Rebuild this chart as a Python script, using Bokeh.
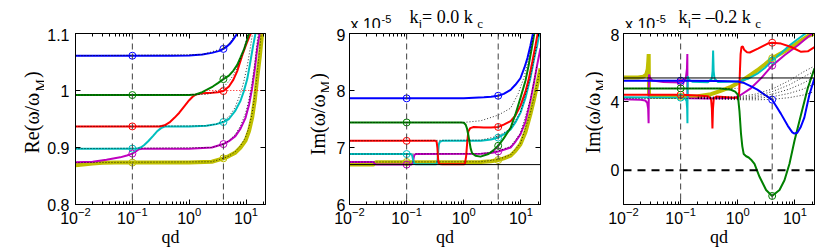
from math import pi
from bokeh.plotting import figure
from bokeh.layouts import row, column
from bokeh.models import (LogAxis, LinearAxis, FixedTicker, Label, Span,
                          CustomJSTickFormatter, Range1d)
from bokeh.embed import file_html
from bokeh.resources import INLINE

# ------------------------------------------------------------------ data
QD_MIN, QD_MAX = 0.01, 22.0
QD_MARKS = [0.1, 4.0]
ORDER = ["yellow", "magenta", "cyan", "red", "green", "blue"]
COLORS = {"blue": "#0000ff", "green": "#008000", "red": "#ff0000",
          "cyan": "#00bfbf", "magenta": "#bf00bf", "yellow": "#bfbf00"}
X_TICKS = [0.01, 0.1, 1.0, 10.0]

re_blue_qd = [0.01, 0.5, 1.0, 1.7, 2.5, 3.4, 4.0, 4.6, 5.2, 5.8, 6.4, 7.0, 7.6]
re_blue = [1.061, 1.061, 1.0615, 1.063, 1.066, 1.0695, 1.073, 1.077, 1.082, 1.088, 1.094, 1.100, 1.107]
re_green_qd = [0.01, 1.0, 1.3, 1.7, 2.1, 2.6, 3.2, 4.0, 5.0, 6.0, 7.0, 8.0, 9.2, 10.3, 11.5]
re_green = [0.992, 0.992, 0.993, 0.997, 1.002, 1.007, 1.013, 1.020, 1.026, 1.035, 1.045, 1.058, 1.072, 1.087, 1.103]
re_red_qd = [0.01, 0.3, 0.37, 0.45, 0.55, 0.67, 0.8, 1.0, 1.15, 1.31, 1.7, 2.5, 3.2, 4.0, 5.0, 6.0, 7.0, 8.6, 10.0, 11.5, 12.8]
re_red = [0.937, 0.937, 0.939, 0.944, 0.952, 0.961, 0.971, 0.983, 0.989, 0.993, 0.995, 0.996, 0.997, 0.999, 1.007, 1.019, 1.034, 1.062, 1.080, 1.095, 1.105]
re_cyan_qd = [0.01, 0.12, 0.14, 0.16, 0.19, 0.23, 0.27, 0.32, 0.38, 1.0, 2.0, 3.0, 4.0, 5.0, 6.4, 8.0, 9.1, 10.5, 11.9, 13.3, 14.8]
re_cyan = [0.898, 0.898, 0.900, 0.904, 0.911, 0.920, 0.928, 0.934, 0.937, 0.937, 0.938, 0.941, 0.9447, 0.950, 0.9637, 0.982, 0.998, 1.020, 1.050, 1.078, 1.102]
re_magenta_qd = [0.01, 0.02, 0.035, 0.061, 0.08, 0.1, 0.115, 0.13, 0.15, 1.0, 2.5, 4.0, 5.0, 6.5, 8.0, 9.8, 11.3, 12.8, 14.3, 15.7, 17.5]
re_magenta = [0.874, 0.875, 0.8787, 0.8827, 0.886, 0.8893, 0.893, 0.897, 0.898, 0.898, 0.900, 0.906, 0.911, 0.920, 0.933, 0.952, 0.975, 1.004, 1.038, 1.073, 1.103]
re_yellow_qd = [0.01, 0.015, 0.02, 0.03, 0.05, 1.0, 2.5, 4.0, 5.0, 6.5, 8.0, 9.8, 11.3, 12.8, 14.3, 15.7, 17.5, 19.2]
re_yellow = [0.869, 0.8705, 0.872, 0.8732, 0.8735, 0.8735, 0.875, 0.881, 0.885, 0.891, 0.900, 0.912, 0.929, 0.952, 0.984, 1.021, 1.06, 1.10]
re_dot1_qd = [0.01, 2.0, 3.0, 4.0, 5.0, 6.0, 7.0, 8.0, 9.2, 10.4, 11.2]
re_dot1 = [0.992, 0.993, 0.998, 1.006, 1.016, 1.027, 1.040, 1.055, 1.072, 1.092, 1.105]
re_dot2_qd = [0.01, 2.0, 3.0, 4.0, 5.0, 6.4, 8.0, 9.1, 10.5, 11.9, 13.0]
re_dot2 = [0.937, 0.938, 0.941, 0.946, 0.954, 0.970, 0.995, 1.015, 1.043, 1.075, 1.100]
re_dot3_qd = [0.01, 2.5, 4.0, 5.0, 6.5, 8.0, 9.8, 11.3, 12.8, 14.3, 15.7, 16.5]
re_dot3 = [0.898, 0.900, 0.906, 0.912, 0.923, 0.938, 0.960, 0.985, 1.015, 1.050, 1.085, 1.102]
re_dot4_qd = [0.01, 2.5, 4.0, 5.0, 6.5, 8.0, 9.8, 11.3, 12.8, 14.3, 15.7, 17.5, 18.5]
re_dot4 = [0.8735, 0.875, 0.881, 0.885, 0.893, 0.903, 0.918, 0.936, 0.960, 0.992, 1.030, 1.075, 1.100]
re_dot5_qd = [0.01, 1.7, 4.0, 5.2, 6.4, 6.8]
re_dot5 = [1.061, 1.063, 1.074, 1.084, 1.097, 1.101]
re_ref_qd = [2.0, 22.0]
re_ref = [1.0, 1.0]
re_mark_01 = {"blue": 1.061, "green": 0.992, "red": 0.937, "cyan": 0.898, "magenta": 0.8893, "yellow": 0.8735}
re_mark_4 = {"blue": 1.073, "green": 1.020, "red": 0.999, "cyan": 0.9447, "magenta": 0.906, "yellow": 0.881}
re_yticks = [0.8, 0.9, 1.0, 1.1]

im0_blue_qd = [0.01, 1.0, 2.25, 3.0, 4.0, 5.0, 6.6, 8.0, 9.8, 11.5, 13.0, 14.6, 16.4, 18.0]
im0_blue = [7.862, 7.862, 7.88, 7.89, 7.908, 7.94, 8.012, 8.10, 8.215, 8.40, 8.57, 8.78, 9.02, 9.25]
im0_green_qd = [0.01, 0.9, 1.0, 1.08, 1.14, 1.2, 1.26, 1.32, 1.4, 1.6, 1.96, 2.7, 3.3, 4.0, 5.0, 6.6, 8.0, 9.8, 12.0, 13.7, 15.5, 17.5, 19.0]
im0_green = [7.439, 7.439, 7.435, 7.40, 7.33, 7.22, 7.10, 6.98, 6.90, 6.857, 6.84, 6.885, 6.95, 7.03, 7.16, 7.347, 7.58, 7.868, 8.17, 8.45, 8.75, 9.05, 9.3]
im0_red_qd = [0.01, 0.32, 0.335, 0.345, 0.352, 0.36, 0.375, 0.42, 1.0, 1.05, 1.1, 1.15, 1.2, 1.3, 1.49, 2.25, 3.0, 4.0, 5.0, 6.6, 8.0, 9.8, 12.0, 13.7, 15.8, 17.9, 20.5]
im0_red = [7.117, 7.117, 7.10, 7.0, 6.85, 6.74, 6.712, 6.705, 6.705, 6.72, 6.85, 7.1, 7.28, 7.34, 7.36, 7.35, 7.35, 7.36, 7.40, 7.464, 7.56, 7.73, 7.98, 8.2, 8.5, 8.78, 9.1]
im0_cyan_qd = [0.01, 0.12, 0.125, 0.13, 0.135, 0.145, 0.33, 0.345, 0.355, 0.365, 0.38, 0.42, 2.0, 3.0, 4.0, 5.0, 6.6, 8.0, 9.8, 12.0, 14.6, 17.0, 19.2, 22.0]
im0_cyan = [6.885, 6.885, 6.86, 6.78, 6.72, 6.705, 6.705, 6.75, 6.9, 7.05, 7.10, 7.117, 7.12, 7.14, 7.174, 7.23, 7.318, 7.44, 7.608, 7.87, 8.215, 8.55, 8.79, 9.1]
im0_magenta_qd = [0.01, 0.026, 0.0275, 0.029, 0.12, 0.128, 0.132, 0.136, 0.145, 2.0, 3.0, 4.0, 5.0, 6.6, 8.0, 9.8, 12.0, 14.6, 17.0, 19.2, 22.0]
im0_magenta = [6.745, 6.745, 6.72, 6.70, 6.70, 6.72, 6.8, 6.87, 6.885, 6.89, 6.905, 6.931, 6.96, 7.0, 7.1, 7.231, 7.45, 7.81, 8.15, 8.445, 8.74]
im0_yellow_qd = [0.01, 0.026, 0.0275, 0.029, 2.0, 3.0, 4.0, 5.0, 6.6, 8.0, 9.8, 12.0, 14.6, 17.0, 19.2, 22.0]
im0_yellow = [6.70, 6.70, 6.72, 6.74, 6.745, 6.76, 6.78, 6.81, 6.857, 6.94, 7.058, 7.27, 7.578, 7.85, 8.098, 8.388]
im0_dot1_qd = [0.01, 1.0, 2.0, 4.0, 6.6, 9.0, 11.2, 14.0, 16.8]
im0_dot1 = [7.439, 7.44, 7.47, 7.568, 7.69, 7.95, 8.214, 8.6, 9.0]
im0_dot2_qd = [0.01, 2.0, 4.0, 6.6, 9.8, 14.6, 19.0]
im0_dot2 = [7.117, 7.13, 7.2, 7.33, 7.62, 8.22, 8.8]
im0_dot3_qd = [0.01, 2.0, 4.0, 6.6, 9.8, 14.6, 19.0]
im0_dot3 = [6.885, 6.89, 6.94, 7.02, 7.25, 7.83, 8.43]
im0_dot4_qd = [0.01, 2.0, 4.0, 6.6, 9.8, 14.6, 19.0, 22.0]
im0_dot4 = [6.745, 6.75, 6.79, 6.87, 7.07, 7.6, 8.1, 8.4]
im0_ref = 6.70
im0_mark_01 = {"blue": 7.862, "green": 7.439, "red": 7.117, "cyan": 6.885, "magenta": 6.70, "yellow": 6.745}
im0_mark_4 = {"blue": 7.908, "green": 7.03, "red": 7.36, "cyan": 7.174, "magenta": 6.931, "yellow": 6.78}
im0_yticks = [6, 7, 8, 9]

im2_yellow_qd = [0.01, 0.018, 0.022, 0.025, 0.0265, 0.0272, 0.0276, 0.0278, 0.028, 0.03, 0.1, 0.2, 0.34, 0.5, 0.76, 1.13, 1.7, 2.2, 3.0, 4.0, 6.5, 10.0, 16.8, 22.0]
im2_yellow = [5.42, 5.43, 5.47, 5.6, 5.9, 6.4, 6.8, 5.5, 4.45, 4.32, 4.3, 4.33, 4.45, 4.65, 4.88, 5.2, 5.6, 5.85, 6.2, 6.55, 6.95, 7.35, 7.85, 8.0]
im2_magenta_qd = [0.01, 0.02, 0.024, 0.026, 0.027, 0.0275, 0.0277, 0.028, 0.029, 0.032, 0.05, 0.1, 0.115, 0.124, 0.129, 0.131, 0.1315, 0.132, 0.14, 0.3, 0.875, 1.14, 1.71, 2.57, 3.98, 6.56, 11.3, 16.8, 22.0]
im2_magenta = [4.15, 4.13, 4.08, 3.95, 3.6, 2.75, 4.5, 5.6, 5.4, 5.25, 5.16, 5.14, 5.2, 5.45, 5.95, 6.8, 5.0, 4.3, 4.22, 4.2, 4.23, 4.42, 4.81, 5.39, 6.12, 6.73, 7.31, 7.79, 8.1]
im2_cyan_qd = [0.01, 0.1, 0.12, 0.127, 0.13, 0.1315, 0.132, 0.133, 0.138, 0.16, 0.3, 0.35, 0.362, 0.37, 0.378, 0.392, 0.45, 1.0, 1.5, 2.2, 3.0, 4.0, 5.7, 8.0, 11.0, 16.0]
im2_cyan = [4.27, 4.25, 4.2, 4.05, 3.6, 2.75, 4.5, 5.5, 5.3, 5.18, 5.15, 5.35, 5.8, 7.0, 5.8, 5.35, 5.17, 5.19, 5.35, 5.65, 6.0, 6.42, 6.85, 7.3, 7.65, 8.05]
im2_red_qd = [0.01, 0.1, 0.2, 0.3, 0.34, 0.352, 0.36, 0.368, 0.38, 0.42, 0.875, 1.02, 1.06, 1.09, 1.12, 1.16, 1.22, 1.29, 1.45, 1.62, 2.25, 3.34, 3.98, 5.7, 8.6, 12.8, 16.8, 22.0]
im2_red = [4.42, 4.42, 4.38, 4.33, 4.2, 3.6, 2.45, 3.6, 4.2, 4.32, 4.25, 4.25, 4.6, 5.8, 6.8, 7.2, 7.25, 7.05, 6.9, 6.89, 7.12, 7.41, 7.46, 7.41, 7.21, 6.93, 6.96, 7.21]
im2_green_qd = [0.01, 0.5, 0.76, 0.9, 1.0, 1.07, 1.14, 1.2, 1.27, 1.4, 1.55, 1.71, 1.96, 2.4, 3.13, 3.98, 5.37, 6.56, 8.03, 9.82, 12.8, 16.8, 22.0]
im2_green = [4.79, 4.79, 4.71, 4.6, 4.42, 3.46, 2.11, 1.4, 0.95, 0.82, 0.75, 0.62, 0.38, -0.38, -1.15, -1.50, -1.15, -0.58, 0.38, 1.73, 3.27, 4.81, 5.96]
im2_blue_qd = [0.01, 0.1, 0.45, 1.0, 1.3, 1.71, 2.2, 2.87, 3.98, 4.8, 5.7, 7.5, 9.0, 9.8, 11.0, 12.5, 14.6, 17.9, 22.0]
im2_blue = [5.24, 5.24, 5.22, 5.19, 5.1, 4.91, 4.72, 4.45, 4.13, 3.7, 3.3, 2.6, 2.22, 2.15, 2.2, 2.5, 3.08, 4.42, 5.39]
im2_dot_qd = [0.2, 1.0, 2.0, 4.0, 8.0, 14.0, 22.0]
im2_dot1 = [4.2, 4.13, 4.12, 4.15, 4.25, 4.4, 4.6]
im2_dot2 = [4.2, 4.17, 4.2, 4.3, 4.5, 4.75, 5.05]
im2_dot3 = [4.22, 4.2, 4.27, 4.45, 4.75, 5.1, 5.45]
im2_dot4 = [4.25, 4.25, 4.35, 4.6, 5.0, 5.45, 5.8]
im2_dot5 = [4.28, 4.3, 4.45, 4.75, 5.25, 5.75, 6.1]
im2_dot6_qd = [0.01, 1.0]
im2_dot6 = [4.79, 4.79]
im2_dot7_qd = [0.01, 0.2]
im2_dot7 = [4.2, 4.2]
im2_ref = 5.40
im2_zero = 0.0
im2_mark_01 = {"blue": 5.24, "green": 4.79, "red": 4.42, "cyan": 4.25, "magenta": 5.14, "yellow": 4.3}
im2_mark_4 = {"blue": 4.13, "green": -1.50, "red": 7.46, "cyan": 6.42, "magenta": 6.12, "yellow": 6.55}
im2_yticks = [0, 4, 8]

RE_CURVES = {"blue": (re_blue_qd, re_blue), "green": (re_green_qd, re_green), "red": (re_red_qd, re_red),
             "cyan": (re_cyan_qd, re_cyan), "magenta": (re_magenta_qd, re_magenta), "yellow": (re_yellow_qd, re_yellow)}
RE_DOTS = [(re_dot1_qd, re_dot1), (re_dot2_qd, re_dot2), (re_dot3_qd, re_dot3), (re_dot4_qd, re_dot4), (re_dot5_qd, re_dot5)]
IM0_CURVES = {"blue": (im0_blue_qd, im0_blue), "green": (im0_green_qd, im0_green), "red": (im0_red_qd, im0_red),
              "cyan": (im0_cyan_qd, im0_cyan), "magenta": (im0_magenta_qd, im0_magenta), "yellow": (im0_yellow_qd, im0_yellow)}
IM0_DOTS = [(im0_dot1_qd, im0_dot1), (im0_dot2_qd, im0_dot2), (im0_dot3_qd, im0_dot3), (im0_dot4_qd, im0_dot4)]
IM2_CURVES = {"blue": (im2_blue_qd, im2_blue), "green": (im2_green_qd, im2_green), "red": (im2_red_qd, im2_red),
              "cyan": (im2_cyan_qd, im2_cyan), "magenta": (im2_magenta_qd, im2_magenta), "yellow": (im2_yellow_qd, im2_yellow)}
IM2_DOTS = [(im2_dot_qd, im2_dot1), (im2_dot_qd, im2_dot2), (im2_dot_qd, im2_dot3), (im2_dot_qd, im2_dot4),
            (im2_dot_qd, im2_dot5), (im2_dot6_qd, im2_dot6), (im2_dot7_qd, im2_dot7)]

# ------------------------------------------------------------------ styling
SANS = "Liberation Sans"
SERIF = "Liberation Serif"
TOP_H = 28
MAIN_H = 221
FRAME_H = 173
MAIN_TOP = 5
MINOR = [d * m for d in X_TICKS for m in range(2, 10) if d * m <= QD_MAX]
EMPTY = "return ''"


def style_axis(ax, show_labels, standoff=5):
    ax.axis_line_color = "black"
    ax.axis_line_width = 1
    ax.major_tick_line_color = "black"
    ax.minor_tick_line_color = "black"
    ax.major_tick_in = 5
    ax.major_tick_out = 0
    ax.minor_tick_in = 3
    ax.minor_tick_out = 0
    ax.major_label_text_color = "black"
    ax.major_label_text_font = SANS
    if show_labels:
        ax.major_label_text_font_size = "16px"
        ax.major_label_standoff = standoff
    else:
        ax.formatter = CustomJSTickFormatter(code=EMPTY)
        ax.major_label_text_font_size = "0px"
        ax.major_label_standoff = 0


def label(p, x, y, text, size, font=SERIF, angle=0.0, align="left"):
    p.add_layout(Label(x=x, y=y, x_units="screen", y_units="screen", text=text,
                       text_font=font, text_font_size=f"{size}px", text_color="black",
                       angle=angle, text_align=align, text_baseline="alphabetic"))


def text_fig(width, height):
    f = figure(width=width, height=height, x_range=Range1d(0, width), y_range=Range1d(0, height),
               x_axis_location=None, y_axis_location=None,
               min_border_left=0, min_border_right=0, min_border_top=0, min_border_bottom=0,
               output_backend="svg", toolbar_location=None)
    f.outline_line_color = None
    f.title.visible = False
    f.grid.visible = False
    f.xgrid.grid_line_color = None
    f.ygrid.grid_line_color = None
    f.background_fill_color = "white"
    f.border_fill_color = "white"
    return f


def make_panel(width, bl, br, yr, yticks, overrides, curves, dots, m01, m4, ystandoff):
    p = figure(width=width, height=MAIN_H, x_axis_type="log",
               x_range=Range1d(QD_MIN, QD_MAX), y_range=Range1d(*yr),
               output_backend="svg", toolbar_location=None,
               min_border_left=bl, min_border_right=br,
               min_border_top=MAIN_TOP, min_border_bottom=MAIN_H - MAIN_TOP - FRAME_H)
    p.title.visible = False
    p.grid.visible = False
    p.outline_line_color = "black"
    p.background_fill_color = "white"
    p.border_fill_color = "white"

    p.xaxis.ticker = FixedTicker(ticks=X_TICKS, minor_ticks=MINOR)
    style_axis(p.xaxis[0], True, 2)
    p.xaxis.axis_label = "qd"
    p.xaxis.axis_label_text_font = SERIF
    p.xaxis.axis_label_text_font_size = "18px"
    p.xaxis.axis_label_text_font_style = "normal"
    p.xaxis.axis_label_text_color = "black"
    p.xaxis.axis_label_standoff = 0

    top = LogAxis(ticker=FixedTicker(ticks=X_TICKS, minor_ticks=MINOR))
    style_axis(top, False)
    p.add_layout(top, "above")

    p.yaxis.ticker = FixedTicker(ticks=yticks, minor_ticks=[])
    style_axis(p.yaxis[0], True, ystandoff)
    p.yaxis.major_label_overrides = overrides
    right = LinearAxis(ticker=FixedTicker(ticks=yticks, minor_ticks=[]))
    style_axis(right, False)
    p.add_layout(right, "right")

    for q in QD_MARKS:
        p.add_layout(Span(location=q, dimension="height", line_color="#404040",
                          line_width=1, line_dash="6 4"))

    for name in ORDER:
        qd, v = curves[name]
        p.line(qd, v, line_color=COLORS[name], line_width=4 if name == "yellow" else 2)
    for qd, v in dots:
        p.line(qd, v, line_color="black", line_width=1, line_dash="1 2", line_alpha=0.8)

    p.scatter([QD_MARKS[0]] * len(ORDER), [m01[n] for n in ORDER], marker="circle", size=7,
              fill_color=None, line_color=[COLORS[n] for n in ORDER], line_width=1)
    p.scatter([QD_MARKS[1]] * len(ORDER), [m4[n] for n in ORDER], marker="circle", size=7,
              fill_color=None, line_color=[COLORS[n] for n in ORDER], line_width=1)
    return p


def ylabel_fig(width, first, x, y):
    # its frame is aligned by the row with the panels' frames (173 px tall)
    f = text_fig(width, MAIN_H)
    w_main = (sum({"R": 0.667, "e": 0.444, "I": 0.333, "m": 0.778}[c] for c in first)
              + 0.333 + 0.688 + 0.278 + 0.688) * 20
    label(f, x, y, first + "(ω/ω", 20, SERIF, angle=pi / 2)
    label(f, x + 9, y + w_main, "M", 14, SERIF, angle=pi / 2)
    label(f, x, y + w_main + 0.889 * 14 + 1, ")", 20, SERIF, angle=pi / 2)
    return f


def add_title(f, x0, y0, middle):
    label(f, x0, y0, "k", 18)
    label(f, x0 + 9, y0 - 6.5, "j", 13)
    label(f, x0 + 12.6, y0, middle, 18)
    w = sum({" ": 0.25, "=": 0.564, "0": 0.5, ".": 0.25, "2": 0.5, "–": 0.5, "k": 0.5}[c] for c in middle) * 18
    label(f, x0 + 12.6 + w, y0 - 6.5, "c", 13)


def add_exponent(f, x0):
    label(f, x0, 4.5, "x 10", 16, SANS)
    label(f, x0 + 31, 9.5, "-5", 11, SANS)


p1 = make_panel(231, 31, 10, (0.8, 1.1), re_yticks, {"1": "1"}, RE_CURVES, RE_DOTS,
                re_mark_01, re_mark_4, 6)
p1.line(re_ref_qd, re_ref, line_color="#ff0000", line_width=1, line_dash="1 2")

p2 = make_panel(220, 20, 9, (6, 9), im0_yticks, {}, IM0_CURVES, IM0_DOTS,
                im0_mark_01, im0_mark_4, 4)
p2.add_layout(Span(location=im0_ref, dimension="width", line_color="black", line_width=1))

p3 = make_panel(219, 20, 8, (-2, 8), im2_yticks, {}, IM2_CURVES, IM2_DOTS,
                im2_mark_01, im2_mark_4, 4)
p3.add_layout(Span(location=im2_ref, dimension="width", line_color="black", line_width=1))
p3.add_layout(Span(location=im2_zero, dimension="width", line_color="black", line_width=2,
                   line_dash="8 6"))

yl1 = ylabel_fig(44, "Re", 31.7, 51)
yl2 = ylabel_fig(54, "Im", 42.3, 49.3)
yl3 = ylabel_fig(54, "Im", 43.3, 51)

top = text_fig(822, TOP_H)
add_title(top, 409, 12, " = 0.0 k")
add_title(top, 678, 12, " = –0.2 k")
add_exponent(top, 350)
add_exponent(top, 624.5)

layout = column(top, row(yl1, p1, yl2, p2, yl3, p3))
open("out.html", "w").write(file_html(layout, INLINE, "plot"))
